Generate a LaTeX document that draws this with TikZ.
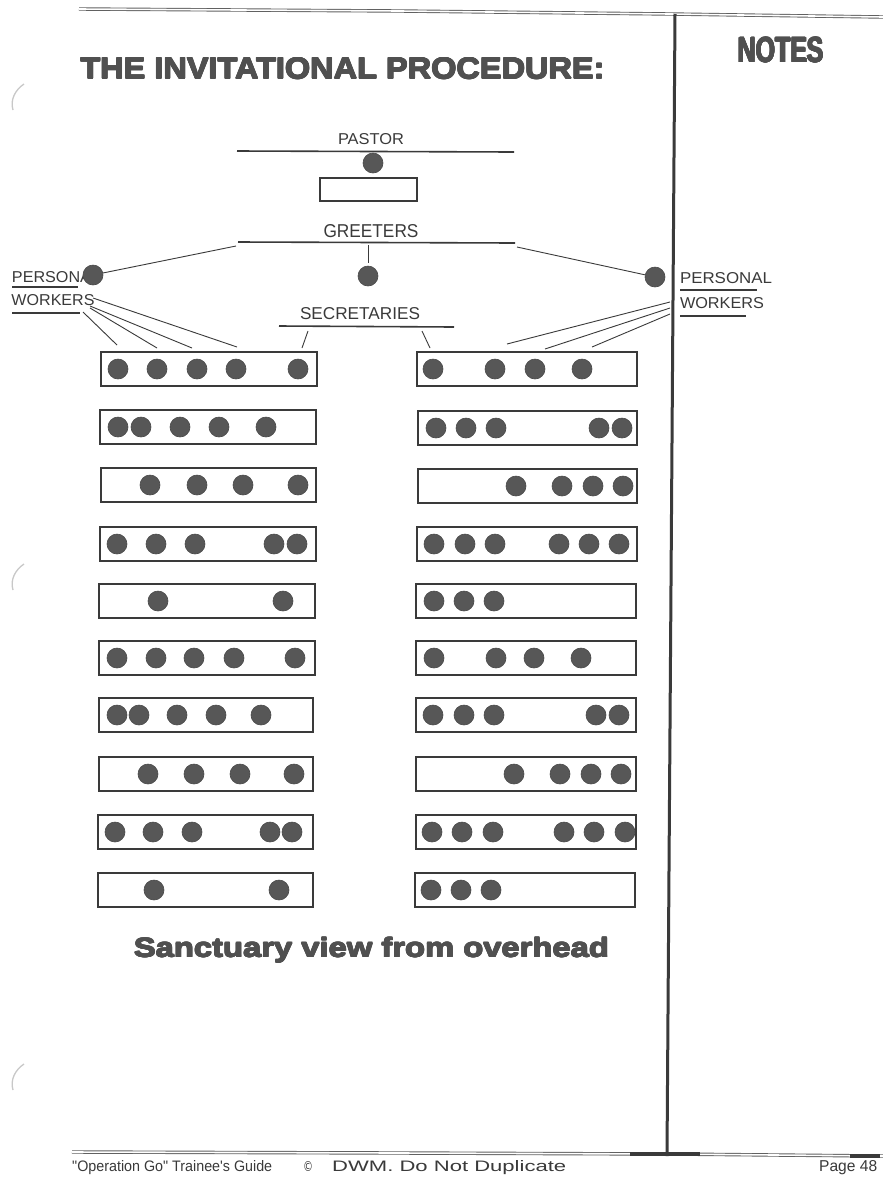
\documentclass[tikz,border=0pt]{standalone}
\usepackage{fontspec}
\usepackage{graphicx}
\setmainfont{Liberation Sans}
\newfontfamily\heavyfont{Liberation Sans}
\newfontfamily\footfont{Liberation Sans}
\definecolor{ink}{HTML}{3A3A3A}
\definecolor{dotc}{HTML}{575757}
\definecolor{headc}{HTML}{505050}
\definecolor{punch}{HTML}{C8C8C8}
\tikzset{
  seat/.style={circle, fill=dotc, draw=dotc!85!black, line width=0.6pt, minimum size=20pt, inner sep=0pt},
  pew/.style={draw=ink, line width=2.3pt, inner sep=0pt, minimum height=34pt},
  rulebar/.style={draw=ink, line width=1.6pt},
  conn/.style={draw=ink, line width=0.9pt},
  hand/.style={text=ink, inner sep=0pt},
  head/.style={text=headc, inner sep=0pt},
  dbl/.style={draw=ink!80, line width=0.9pt, double=white, double distance=1.6pt},
}
\newcommand\titletext{\resizebox{524pt}{21pt}{\heavyfont\bfseries THE INVITATIONAL PROCEDURE:}}
\newcommand\notestext{\resizebox{86pt}{25pt}{\heavyfont\bfseries NOTES}}
\newcommand\captext{\resizebox{475pt}{19.5pt}{\heavyfont\bfseries Sanctuary view from overhead}}
\begin{document}
\begin{tikzpicture}[x=1pt,y=-1pt]
\useasboundingbox (0,0) rectangle (883,1179);
\fill[white] (0,0) rectangle (883,1179);

% page frame lines
\draw[dbl] (79,9) -- (400,11) -- (670,14) -- (883,17);
\draw[dbl] (72,1152) -- (400,1153) -- (667,1154) -- (883,1156);
\draw[ink, line width=3.5pt] (630,1154) -- (700,1154);
\draw[ink, line width=3.5pt] (850,1156) -- (880,1156);
\draw[ink, line width=3pt] (675,14) -- (667,1156);

% hole punches
\foreach \py in {0,480,980} {
  \draw[punch, line width=1.3pt] (24,84+\py) .. controls (15,90+\py) and (10,100+\py) .. (13,110+\py);
}

% headings (stacked copies for a heavier face)
\foreach \dx/\dy in {-0.6/0,0.6/0,0/-0.45,0/0.45,-0.4/-0.3,0.4/-0.3,-0.4/0.3,0.4/0.3} {
  \node[head] at (342.5+\dx,68.5+\dy) {\titletext};
  \node[head] at (781+\dx,50+\dy) {\notestext};
  \node[head, anchor=base] at (371.5+\dx,957+\dy) {\captext};
}
\node[head] (title) at (342.5,68.5) {\titletext};
\node[head] (notes) at (781,50) {\notestext};
\node[head, anchor=base] (caption) at (371.5,957) {\captext};

% pastor
\node[hand] (pastorlbl) at (371,139) {\resizebox{66pt}{11pt}{PASTOR}};
\draw[rulebar] (237,151) -- (514,152);
\node[seat] (pastor) at (373,163) {};
\node[draw=ink, line width=2pt, minimum width=97pt, minimum height=23pt, inner sep=0pt] (pulpit) at (368,189) {};

% greeters
\node[hand] (greetlbl) at (371,231) {\resizebox{95pt}{13pt}{GREETERS}};
\draw[rulebar] (238,242) -- (515,243);
\coordinate (gL) at (236,246);
\coordinate (gR) at (517,247);
\coordinate (gT) at (368,245);
\node[seat] (greeter) at (368,276) {};
\draw[conn] (gT) -- ([yshift=3pt]greeter.north);

% personal workers labels
\node[hand] (pwLt1) at (56,277) {\resizebox{88pt}{11pt}{PERSONAL}};
\node[hand] (pwLt2) at (53,300) {\resizebox{83pt}{11pt}{WORKERS}};
\draw[conn, line width=1.4pt] (12,287) -- (78,287);
\draw[conn, line width=1.4pt] (12,313) -- (80,313);
\node[hand] (pwRt1) at (726,278) {\resizebox{92pt}{11pt}{PERSONAL}};
\node[hand] (pwRt2) at (722,303) {\resizebox{84pt}{11pt}{WORKERS}};
\draw[conn, line width=1.4pt] (680,290) -- (757,290);
\draw[conn, line width=1.4pt] (680,316) -- (746,316);

\node[seat] (pwL) at (93,275) {};
\node[seat] (pwR) at (655,277) {};
\draw[conn] (gL) -- (pwL);
\draw[conn] (gR) -- (pwR);

% secretaries
\node[hand] (seclbl) at (360,314) {\resizebox{120pt}{12pt}{SECRETARIES}};
\draw[rulebar] (279,326) -- (454,327);
\coordinate (sL) at (308,331);
\coordinate (sLe) at (302,348);
\coordinate (sR) at (422,331);
\coordinate (sRe) at (430,348);
\draw[conn] (sL) -- (sLe);
\draw[conn] (sR) -- (sRe);

% worker lines
\coordinate (wL1) at (83,312);  \coordinate (eL1) at (117,345);
\coordinate (wL2) at (90,308);  \coordinate (eL2) at (157,348);
\coordinate (wL3) at (90,306);  \coordinate (eL3) at (192,348);
\coordinate (wL4) at (93,298);  \coordinate (eL4) at (237,347);
\foreach \i in {1,2,3,4} { \draw[conn] (wL\i) -- (eL\i); }
\coordinate (wR1) at (670,302); \coordinate (eR1) at (507,344);
\coordinate (wR2) at (670,308); \coordinate (eR2) at (545,349);
\coordinate (wR3) at (670,314); \coordinate (eR3) at (592,347);
\foreach \i in {1,2,3} { \draw[conn] (wR\i) -- (eR\i); }

% left pews
\foreach \n/\y/\xa/\xb/\ds in {
  1/352/101/317/{118,157,197,236,298},
  2/410/100/316/{118,141,180,219,266},
  3/468/101/316/{150,197,243,298},
  4/527/100/316/{117,156,195,274,297},
  5/584/99/315/{158,283},
  6/641/99/315/{117,156,194,234,295},
  7/698/99/313/{117,139,177,216,261},
  8/757/99/313/{148,194,240,294},
  9/815/98/313/{115,153,192,270,292},
  10/873/98/313/{154,279}} {
  \node[pew, minimum width={(\xb-\xa)*1pt}] (L\n) at ({(\xa+\xb)/2},\y+17) {};
  \foreach \d in \ds { \node[seat] at (\d,\y+17) {}; }
}
% right pews
\foreach \n/\y/\xa/\xb/\ds in {
  1/352/417/637/{433,495,535,582},
  2/411/418/637/{436,466,496,599,622},
  3/469/418/637/{516,562,593,623},
  4/527/417/637/{434,465,495,559,589,619},
  5/584/416/636/{434,464,494},
  6/641/416/636/{434,496,534,581},
  7/698/416/636/{433,464,494,596,619},
  8/757/416/636/{514,560,591,621},
  9/815/416/636/{432,462,493,564,594,625},
  10/873/415/635/{431,461,491}} {
  \node[pew, minimum width={(\xb-\xa)*1pt}] (R\n) at ({(\xa+\xb)/2},\y+17) {};
  \foreach \d in \ds { \node[seat] at (\d,\y+17) {}; }
}

% footer
\node[text=ink, inner sep=0pt, anchor=base west] (foot1) at (72,1171)
  {\resizebox{200pt}{11pt}{\footfont "Operation Go" Trainee's Guide}};
\node[text=ink, inner sep=0pt, anchor=base] (foot2) at (308,1171)
  {\resizebox{10pt}{10pt}{\fontspec{DejaVu Sans}©}};
\node[text=ink, inner sep=0pt, anchor=base west] (foot3) at (332,1171)
  {\resizebox{234pt}{11pt}{\footfont DWM. Do Not Duplicate}};
\node[text=ink, inner sep=0pt, anchor=base west] (foot4) at (819,1171)
  {\resizebox{58pt}{11pt}{\footfont Page 48}};
\end{tikzpicture}
\end{document}
